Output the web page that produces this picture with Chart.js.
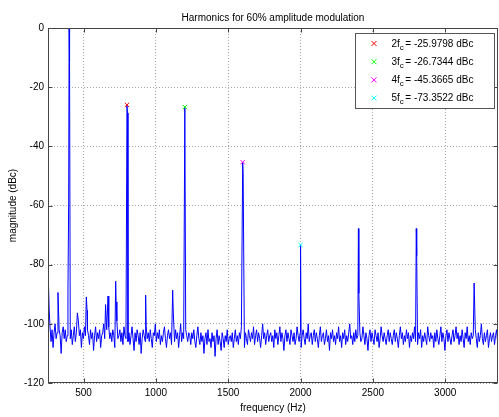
<!DOCTYPE html>
<html>
<head>
<meta charset="utf-8">
<script src="https://cdn.jsdelivr.net/npm/chart.js@4.4.1/dist/chart.umd.min.js"></script>
<style>
  body { margin: 0; background: #fff; }
  #espectro { display: block; }
</style>
</head>
<body>
<canvas id="espectro" width="499" height="417"></canvas>
<script>
// dados do espectro
var freqInicio = 254;   // Hz, primeiro bin de ruído
var freqPasso = 7;      // Hz entre bins de ruído
var ruidoDb = [
  -99,-104,-101,-106,-102,-108,-103,-100,-105,-103,-107,-102,-104,-110,-103,-101,-105,-102,-106,-104,
  -103,-100,-105,-102,-107,-104,-101,-106,-103,-105,-99,-104,-102,-108,-103,-105,-101,-104,-106,-102,
  -104,-107,-102,-105,-103,-109,-104,-101,-106,-103,-105,-102,-108,-104,-103,-100,-105,-107,-102,-104,
  -101,-105,-103,-106,-102,-104,-108,-103,-99,-105,-104,-102,-106,-103,-107,-101,-104,-105,-102,-106,
  -103,-107,-104,-101,-105,-109,-103,-106,-102,-104,-107,-103,-110,-105,-102,-104,-106,-101,-105,-103,
  -106,-102,-105,-108,-103,-104,-100,-106,-103,-105,-102,-107,-104,-106,-103,-101,-105,-108,-104,-102,
  -105,-103,-107,-101,-104,-106,-102,-105,-103,-108,-104,-100,-106,-103,-105,-109,-102,-104,-106,-103,
  -104,-107,-103,-105,-102,-106,-108,-104,-101,-105,-107,-103,-106,-104,-110,-105,-103,-107,-102,-106,
  -105,-108,-103,-106,-104,-111,-105,-102,-107,-104,-106,-109,-103,-105,-108,-104,-106,-102,-107,-105,
  -104,-106,-103,-108,-105,-102,-106,-104,-107,-103,-105,-101,-106,-104,-108,-103,-105,-107,-102,-104,
  -106,-103,-105,-101,-107,-104,-102,-106,-103,-105,-108,-104,-100,-105,-103,-107,-104,-102,-106,-104,
  -103,-106,-104,-108,-102,-105,-103,-107,-104,-101,-106,-103,-105,-109,-104,-102,-106,-103,-105,-107,
  -102,-104,-106,-103,-107,-105,-101,-104,-106,-103,-108,-104,-102,-105,-107,-103,-105,-100,-106,-104,
  -103,-107,-104,-102,-106,-103,-105,-108,-104,-101,-106,-104,-103,-107,-105,-102,-106,-104,-109,-103,
  -105,-102,-106,-104,-107,-103,-105,-101,-106,-104,-108,-103,-105,-102,-107,-104,-106,-103,-100,-105,
  -104,-107,-103,-106,-102,-105,-104,-108,-103,-106,-105,-101,-104,-107,-103,-105,-109,-104,-102,-106,
  -103,-105,-107,-102,-104,-106,-103,-108,-105,-101,-104,-106,-103,-105,-107,-104,-102,-106,-103,-105,
  -107,-104,-102,-106,-103,-105,-108,-104,-101,-105,-103,-107,-104,-106,-102,-105,-103,-108,-104,-106,
  -103,-105,-101,-106,-104,-107,-103,-105,-102,-108,-104,-106,-103,-105,-107,-101,-104,-106,-103,-105,
  -104,-108,-103,-106,-102,-105,-107,-104,-101,-106,-103,-105,-109,-104,-102,-106,-103,-105,-107,-104,
  -102,-106,-104,-101,-105,-103,-107,-104,-106,-102,-105,-108,-103,-105,-101,-106,-104,-107,-103,-105,
  -104,-106,-102,-105,-108,-103,-106,-104,-100,-105,-107,-103,-106,-104,-102,-108,-105,-103,-106,-104,
  -103,-107,-104,-102,-106
];
// picos (fundamental, harmônicos e espúrios)
var picoHz = [257, 262, 323, 392, 397, 400, 403, 457, 519, 524, 652, 669, 722, 725, 800, 803, 929, 1116, 1120, 1200, 1600, 1603, 2000, 2400, 2403, 2800, 2803, 3200];
var picoDb = [-86, -95, -89.4, -88.6, -58.8, 0, -11.2, -96.3, -90.9, -95.5, -93.5, -90.6, -85.6, -92.6, -25.98, -28.7, -90.3, -88.6, -96, -26.73, -45.37, -49.2, -73.35, -67.8, -89.7, -67.8, -77, -86.2];

// marcadores dos harmônicos
var harmNome = ['2f', '3f', '4f', '5f'];
var harmHz = [800, 1200, 1600, 2000];
var harmDb = [-25.9798, -26.7344, -45.3665, -73.3522];
var harmCor = ['rgb(255,0,0)', 'rgb(0,255,0)', 'rgb(255,0,255)', 'rgb(0,255,255)'];

var xTicks = [500, 1000, 1500, 2000, 2500, 3000];
var xMin = 254, xMax = 3365;
var yMin = -120, yMax = 0, yPasso = 20;

var titulo = 'Harmonics for 60% amplitude modulation';
var fonte = '"Liberation Sans", Arial, Helvetica, sans-serif';

//monta os pontos da linha azul
function montaPontos(){
  var pts = [];
  ruidoDb.forEach(function(v, i){
    var f = freqInicio + i * freqPasso;
    var perto = picoHz.some(function(p){ return Math.abs(p - f) < 3; });
    if (!perto) pts.push({x: f, y: v});
  });
  picoHz.forEach(function(f, i){ pts.push({x: f, y: picoDb[i]}); });
  pts.sort(function(a, b){ return a.x - b.x; });
  return pts;
}

//moldura, ticks para dentro (estilo matlab) e título centrado nos eixos
var molduraPlugin = {
  id: 'moldura',
  afterDraw: function(chart){
    var ctx = chart.ctx, a = chart.chartArea;
    var sx = chart.scales.x, sy = chart.scales.y;
    var l = Math.round(a.left) + 0.5, r = Math.round(a.right) - 0.5;
    var t = Math.round(a.top) + 0.5, b = Math.round(a.bottom) - 0.5;
    ctx.save();
    ctx.strokeStyle = '#444';
    ctx.lineWidth = 1;
    ctx.strokeRect(l, t, r - l, b - t);
    ctx.beginPath();
    xTicks.forEach(function(v){
      var px = Math.round(sx.getPixelForValue(v)) + 0.5;
      ctx.moveTo(px, b); ctx.lineTo(px, b - 4);
      ctx.moveTo(px, t); ctx.lineTo(px, t + 4);
    });
    for (var v = yMin; v <= yMax; v += yPasso){
      var py = Math.round(sy.getPixelForValue(v)) + 0.5;
      ctx.moveTo(l, py); ctx.lineTo(l + 4, py);
      ctx.moveTo(r, py); ctx.lineTo(r - 4, py);
    }
    ctx.stroke();
    // título
    ctx.fillStyle = '#000';
    ctx.font = '10px ' + fonte;
    ctx.textAlign = 'center';
    ctx.textBaseline = 'alphabetic';
    ctx.fillText(titulo, (a.left + a.right) / 2, 20.5);
    ctx.restore();
  }
};

//legenda com subscrito
var legendaPlugin = {
  id: 'legendaHarm',
  afterDraw: function(chart){
    var ctx = chart.ctx, a = chart.chartArea;
    var w = 139, h = 75;
    var x0 = Math.round(a.right) - 4 - w, y0 = Math.round(a.top) + 5;
    ctx.save();
    ctx.fillStyle = '#fff';
    ctx.fillRect(x0, y0, w, h);
    ctx.strokeStyle = '#555';
    ctx.lineWidth = 1;
    ctx.strokeRect(x0 + 0.5, y0 + 0.5, w, h);
    harmNome.forEach(function(nome, i){
      var cy = y0 + 10.5 + i * 18.2;
      var mx = x0 + 19;
      ctx.strokeStyle = harmCor[i];
      ctx.beginPath();
      ctx.moveTo(mx - 2.5, cy - 2.5); ctx.lineTo(mx + 2.5, cy + 2.5);
      ctx.moveTo(mx + 2.5, cy - 2.5); ctx.lineTo(mx - 2.5, cy + 2.5);
      ctx.stroke();
      ctx.fillStyle = '#000';
      ctx.textBaseline = 'alphabetic';
      ctx.textAlign = 'left';
      var tx = x0 + 36.5;
      ctx.font = '10px ' + fonte;
      ctx.fillText(nome, tx, cy + 3);
      tx += ctx.measureText(nome).width;
      ctx.font = '8px ' + fonte;
      ctx.fillText('c', tx, cy + 6);
      tx += ctx.measureText('c').width + 1.5;
      ctx.font = '10px ' + fonte;
      ctx.fillText('= ' + harmDb[i].toFixed(4) + ' dBc', tx, cy + 3);
    });
    ctx.restore();
  }
};

//gráfico do espectro
function graficoEspectro(){
  var ctx = document.getElementById('espectro').getContext('2d');
  var marcadores = harmHz.map(function(f, i){
    return {
      type: 'scatter',
      label: harmNome[i] + 'c',
      data: [{x: f, y: harmDb[i]}],
      pointStyle: 'crossRot',
      pointRadius: 3,
      borderColor: harmCor[i],
      borderWidth: 1,
      order: 0
    };
  });
  new Chart(ctx, {
    type: 'line',
    data: {
      datasets: [{
        label: 'espectro',
        data: montaPontos(),
        borderColor: 'rgb(0,0,255)',
        borderWidth: 1,
        pointRadius: 0,
        tension: 0,
        fill: false,
        order: 1
      }].concat(marcadores)
    },
    options: {
      responsive: false,
      animation: false,
      events: [],
      layout: { autoPadding: false, padding: { right: 1, left: 0, top: 28, bottom: 0 } },
      plugins: {
        legend: { display: false },
        tooltip: { enabled: false },
        title: { display: false }
      },
      scales: {
        x: {
          type: 'linear',
          min: xMin, max: xMax,
          afterBuildTicks: function(s){ s.ticks = xTicks.map(function(v){ return {value: v}; }); },
          afterFit: function(s){ s.height = 34; s.paddingLeft = 0; s.paddingRight = 0; },
          grid: { color: 'rgba(0,0,0,0.35)', drawTicks: false },
          border: { display: false, dash: [1, 2] },
          ticks: {
            color: '#000', padding: 4, maxRotation: 0, font: { family: fonte, size: 10 },
            callback: function(v){ return String(v); }
          },
          title: { display: true, text: 'frequency (Hz)', color: '#000', font: { family: fonte, size: 10 }, padding: { bottom: 3, top: 0 } }
        },
        y: {
          min: yMin, max: yMax,
          ticks: {
            stepSize: yPasso, color: '#000', padding: 4, font: { family: fonte, size: 10 },
            callback: function(v){ return String(v); }
          },
          afterFit: function(s){ s.width = 48; s.paddingTop = 0; s.paddingBottom = 0; },
          grid: { color: 'rgba(0,0,0,0.35)', drawTicks: false },
          border: { display: false, dash: [1, 2] },
          title: { display: true, text: 'magnitude (dBc)', color: '#000', font: { family: fonte, size: 10 }, padding: { top: 7, bottom: 0 } }
        }
      }
    },
    plugins: [molduraPlugin, legendaPlugin]
  });
}

graficoEspectro();
</script>
</body>
</html>
